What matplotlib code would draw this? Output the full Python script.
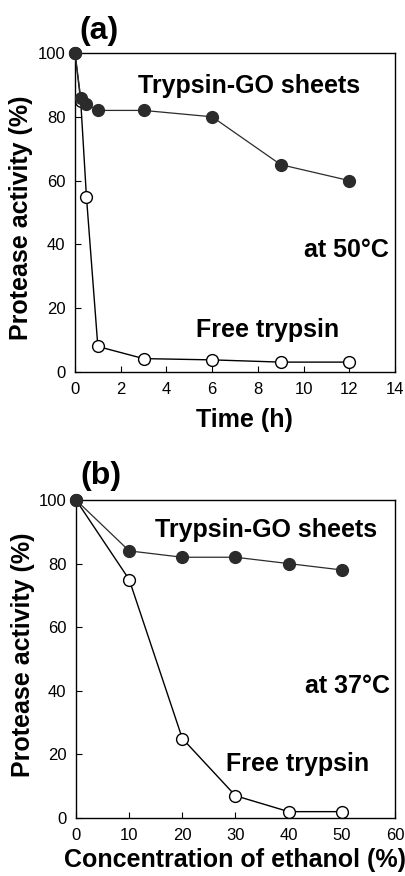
import matplotlib
matplotlib.use("Agg")
import matplotlib.pyplot as plt

plt.rcParams['font.family'] = ['Liberation Sans', 'DejaVu Sans']

# Panel (a): thermal stability at 50°C
time_h = [0, 0.25, 0.5, 1, 3, 6, 9, 12]
go_a = [100, 86, 84, 82, 82, 80, 65, 60]
time_free = [0, 0.25, 0.5, 1, 3, 6, 9, 12]
free_a = [100, 85, 55, 8, 4.2, 3.8, 3.1, 3.1]

# Panel (b): ethanol tolerance at 37°C
ethanol = [0, 10, 20, 30, 40, 50]
go_b = [100, 84, 82, 82, 80, 78]
free_b = [100, 75, 25, 7, 2, 2]

xticks_a = [0, 2, 4, 6, 8, 10, 12, 14]
xticks_b = [0, 10, 20, 30, 40, 50, 60]
yticks = [0, 20, 40, 60, 80, 100]

W, H = 406, 876
fig = plt.figure(figsize=(W / 100, H / 100), dpi=100)


def fx(x):
    return x / W


def fy(y):
    return 1 - y / H


def make_ax(l, t, r, b):
    return fig.add_axes([fx(l), fy(b), (r - l) / W, (b - t) / H])


def style(ax, xticks, xmax):
    ax.set_xlim(0, xmax)
    ax.set_ylim(0, 100)
    ax.set_xticks(xticks)
    ax.set_yticks(yticks)
    ax.tick_params(direction='in', length=4, width=0.8, labelsize=12,
                   pad=7, colors='black')
    for s in ax.spines.values():
        s.set_linewidth(1.0)


go_kw = dict(color='#2b2b2b', lw=0.9, marker='o', ms=8.5, mfc='#2b2b2b',
             mec='#2b2b2b', clip_on=False, zorder=4)
free_kw = dict(color='black', lw=1.0, marker='o', ms=8.5, mfc='white',
               mec='black', mew=1.0, clip_on=False, zorder=3)

FS = 18

# Panel a
ax1 = make_ax(75, 53, 395, 372)
ax1.plot(time_free, free_a, **free_kw)
ax1.plot(time_h, go_a, **go_kw)
style(ax1, xticks_a, 14)
ax1.set_xlabel('Time (h)', fontsize=FS, fontweight='bold')
ax1.xaxis.set_label_coords(0.53, -0.113)
ax1.set_ylabel('Protease activity (%)', fontsize=FS, fontweight='bold')
ax1.yaxis.set_label_coords(-0.131, 0.484)

fig.text(fx(79), fy(31), '(a)', fontsize=23, fontweight='bold', va='center', ha='left')
fig.text(fx(138), fy(93), 'Trypsin-GO sheets', fontsize=FS, fontweight='bold',
         va='baseline', ha='left')
fig.text(fx(389), fy(257), 'at 50°C', fontsize=FS, fontweight='bold',
         va='baseline', ha='right')
fig.text(fx(196), fy(337), 'Free trypsin', fontsize=FS, fontweight='bold',
         va='baseline', ha='left')

# Panel b
ax2 = make_ax(76, 500, 395, 818)
ax2.plot(ethanol, free_b, **free_kw)
ax2.plot(ethanol, go_b, **go_kw)
style(ax2, xticks_b, 60)
ax2.set_xlabel('Concentration of ethanol (%)', fontsize=FS, fontweight='bold')
ax2.xaxis.set_label_coords(0.5, -0.094)
ax2.set_ylabel('Protease activity (%)', fontsize=FS, fontweight='bold')
ax2.yaxis.set_label_coords(-0.13, 0.514)

fig.text(fx(80), fy(476), '(b)', fontsize=23, fontweight='bold', va='center', ha='left')
fig.text(fx(155), fy(537), 'Trypsin-GO sheets', fontsize=FS, fontweight='bold',
         va='baseline', ha='left')
fig.text(fx(390), fy(693), 'at 37°C', fontsize=FS, fontweight='bold',
         va='baseline', ha='right')
fig.text(fx(226), fy(771), 'Free trypsin', fontsize=FS, fontweight='bold',
         va='baseline', ha='left')

fig.savefig('out.png', dpi=100)
